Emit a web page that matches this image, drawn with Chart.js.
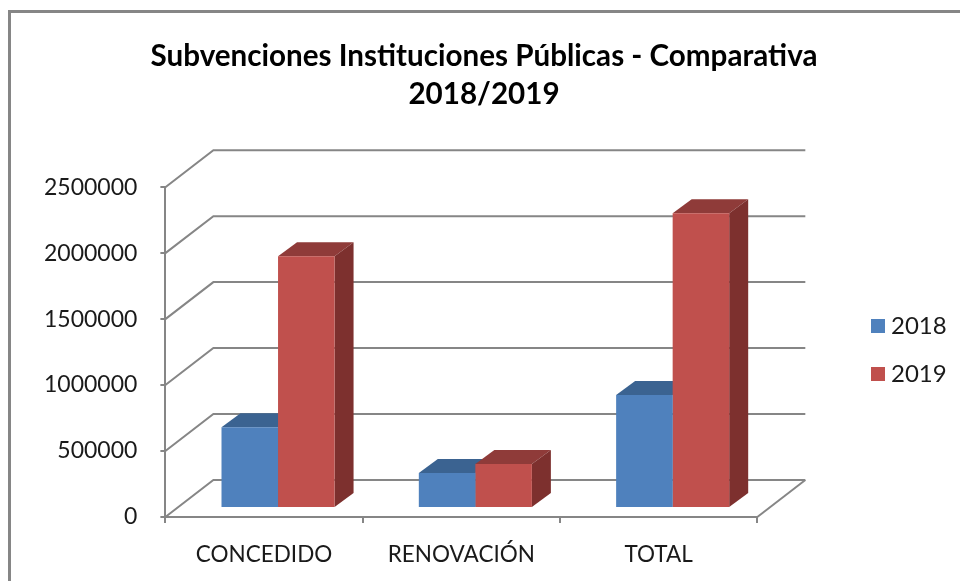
<!DOCTYPE html>
<html>
<head>
<meta charset="utf-8">
<style>
  html, body { margin: 0; padding: 0; background: #fff; }
  #wrap { width: 960px; height: 581px; }
</style>
<script src="https://cdn.jsdelivr.net/npm/chart.js@4/dist/chart.umd.min.js"></script>
</head>
<body>
<div id="wrap"><canvas id="chart"></canvas></div>
<script>
const titleLines = ['Subvenciones Instituciones Públicas - Comparativa', '2018/2019'];
const categories = ['CONCEDIDO', 'RENOVACIÓN', 'TOTAL'];
const values2018 = [613000, 265000, 856000];
const values2019 = [1909000, 333000, 2235000];
const yTicks = [0, 500000, 1000000, 1500000, 2000000, 2500000];

const gridColor = '#868686';
const textColor = '#1a1a1a';
const fontName = 'Lato';

// Depth of the back wall and offset of the bars from the front plane
const wallDepth = { x: 48, y: -37 };
const barOffset = { x: 14, y: -9 };
const barDepth = { x: 19, y: -14 };

function polygon(ctx, points, color) {
  ctx.fillStyle = color;
  ctx.beginPath();
  points.forEach((p, i) => i ? ctx.lineTo(p[0], p[1]) : ctx.moveTo(p[0], p[1]));
  ctx.closePath();
  ctx.fill();
}

const fake3d = {
  id: 'fake3d',
  beforeDraw(chart) {
    // Chart frame, open on the right and at the bottom of the picture
    const ctx = chart.ctx;
    ctx.save();
    ctx.strokeStyle = gridColor;
    ctx.lineWidth = 3;
    ctx.beginPath();
    ctx.moveTo(9.5, 581);
    ctx.lineTo(9.5, 11.5);
    ctx.lineTo(960, 11.5);
    ctx.stroke();
    ctx.restore();
  },
  beforeDatasetsDraw(chart) {
    const ctx = chart.ctx;
    const area = chart.chartArea;
    const yScale = chart.scales.y;

    // Gridlines go along the side wall and then along the back wall
    ctx.save();
    ctx.strokeStyle = gridColor;
    ctx.lineWidth = 2;
    yTicks.forEach(v => {
      const y = yScale.getPixelForValue(v);
      ctx.beginPath();
      ctx.moveTo(area.left, y);
      ctx.lineTo(area.left + wallDepth.x, y + wallDepth.y);
      ctx.lineTo(area.right + wallDepth.x, y + wallDepth.y);
      ctx.stroke();
    });
    ctx.beginPath();
    ctx.moveTo(area.right, area.bottom);
    ctx.lineTo(area.right + wallDepth.x, area.bottom + wallDepth.y);
    ctx.stroke();
    ctx.restore();

    // Tops and sides first, the library paints the front faces over them
    ctx.save();
    ctx.translate(barOffset.x, barOffset.y);
    chart.data.datasets.forEach((ds, i) => {
      chart.getDatasetMeta(i).data.forEach(bar => {
        const l = bar.x - bar.width / 2;
        const r = bar.x + bar.width / 2;
        polygon(ctx, [[l, bar.y], [l + barDepth.x, bar.y + barDepth.y], [r + barDepth.x, bar.y + barDepth.y], [r, bar.y]], ds.topColor);
        polygon(ctx, [[r, bar.y], [r + barDepth.x, bar.y + barDepth.y], [r + barDepth.x, bar.base + barDepth.y], [r, bar.base]], ds.sideColor);
      });
    });
    ctx.restore();

    ctx.save();
    ctx.translate(barOffset.x, barOffset.y);
  },
  afterDatasetsDraw(chart) {
    chart.ctx.restore();
  },
  afterLayout(chart) {
    // Legend floats right of the plot with a gap, as in the original
    const legend = chart.legend;
    const w = legend.right - legend.left;
    legend.left = 853;
    legend.right = 853 + w;
    legend.top += 38;
    legend.bottom += 38;
    // Title is centred on the whole frame, not on the padded box
    chart.titleBlock.left += 43;
    chart.titleBlock.right += 43;
  }
};

new Chart(document.getElementById('chart'), {
  type: 'bar',
  data: {
    labels: categories,
    datasets: [
      { label: '2018', data: values2018, backgroundColor: '#4F81BD', topColor: '#3B6391', sideColor: '#35587F', clip: false },
      { label: '2019', data: values2019, backgroundColor: '#C0504D', topColor: '#8F3B39', sideColor: '#7D302E', clip: false }
    ]
  },
  options: {
    responsive: true,
    maintainAspectRatio: false,
    animation: false,
    layout: { padding: { left: 21, right: 99, top: 38, bottom: -5 } },
    datasets: { bar: { barPercentage: 1, categoryPercentage: 0.573 } },
    scales: {
      x: {
        grid: { drawOnChartArea: false, color: gridColor, lineWidth: 2, tickLength: 6 },
        border: { color: gridColor, width: 2 },
        ticks: { color: textColor, font: { family: fontName, size: 22.5 }, padding: 18, maxRotation: 0 }
      },
      y: {
        min: 0,
        max: 2500000,
        grid: { drawOnChartArea: false, color: gridColor, lineWidth: 2, tickLength: 5 },
        border: { color: gridColor, width: 2 },
        ticks: {
          color: textColor,
          font: { family: fontName, size: 23 },
          padding: 23,
          stepSize: 500000,
          callback: v => String(v)
        }
      }
    },
    plugins: {
      title: {
        display: true,
        text: titleLines,
        color: '#000',
        font: { family: fontName, size: 29.6, weight: 'bold', lineHeight: 1.27 },
        padding: { top: 0, bottom: 74 }
      },
      legend: {
        position: 'right',
        labels: {
          color: textColor,
          font: { family: fontName, size: 24 },
          boxWidth: 2,
          boxHeight: 2,
          padding: 24,
          // a thick outline makes the swatch 14px wide while keeping the text close to it
          generateLabels(chart) {
            return Chart.defaults.plugins.legend.labels.generateLabels(chart).map(item => {
              item.strokeStyle = item.fillStyle;
              item.lineWidth = 12;
              return item;
            });
          }
        }
      },
      tooltip: { enabled: false }
    }
  },
  plugins: [fake3d]
});
</script>
</body>
</html>
